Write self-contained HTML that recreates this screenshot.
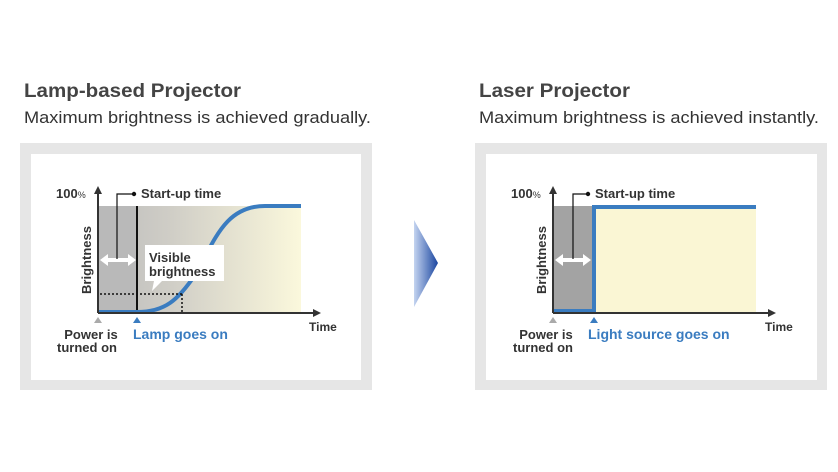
<!DOCTYPE html>
<html><head><meta charset="utf-8"><style>
html,body{margin:0;padding:0;background:#fff;}
svg{display:block;font-family:"Liberation Sans",Arial,sans-serif;}
</style></head><body>
<svg width="838" height="472" viewBox="0 0 838 472" xmlns="http://www.w3.org/2000/svg">
<defs>
<linearGradient id="lg" x1="0" x2="1" y1="0" y2="0">
<stop offset="0" stop-color="#bdbdbd"/><stop offset="0.35" stop-color="#cfcdc6"/><stop offset="1" stop-color="#fbf8dc"/>
</linearGradient>
<linearGradient id="ar" x1="0" x2="1" y1="0" y2="0">
<stop offset="0" stop-color="#c4d4f0"/><stop offset="1" stop-color="#1a45a0"/>
</linearGradient>
</defs>
<!-- titles -->
<text x="24" y="97" font-size="19" font-weight="bold" fill="#444" textLength="217" lengthAdjust="spacingAndGlyphs">Lamp-based Projector</text>
<text x="24" y="123" font-size="16.5" fill="#333" textLength="347" lengthAdjust="spacingAndGlyphs">Maximum brightness is achieved gradually.</text>
<text x="479" y="97" font-size="19" font-weight="bold" fill="#444" textLength="151" lengthAdjust="spacingAndGlyphs">Laser Projector</text>
<text x="479" y="123" font-size="16.5" fill="#333" textLength="340" lengthAdjust="spacingAndGlyphs">Maximum brightness is achieved instantly.</text>
<!-- boxes -->
<rect x="20" y="143" width="352" height="247" fill="#e6e6e6"/>
<rect x="31" y="154" width="330" height="226" fill="#fff"/>
<rect x="475" y="143" width="352" height="247" fill="#e6e6e6"/>
<rect x="486" y="154" width="331" height="226" fill="#fff"/>
<!-- middle arrow -->
<polygon points="414,220 438,263 414,307" fill="url(#ar)"/>

<!-- LEFT CHART -->
<rect x="98" y="206" width="203" height="106" fill="url(#lg)"/>
<rect x="98" y="206" width="39" height="106" fill="#b9b9b9"/>
<line x1="137" y1="206" x2="137" y2="312" stroke="#111" stroke-width="2"/>
<path d="M98,312 L137,312 C165,312 178,300 195,275 C215,240 225,206 265,206 L301,206" fill="none" stroke="#3a7cc0" stroke-width="4"/>
<line x1="100" y1="294" x2="182" y2="294" stroke="#111" stroke-width="1.5" stroke-dasharray="2,2"/>
<line x1="182" y1="294" x2="182" y2="312" stroke="#111" stroke-width="1.5" stroke-dasharray="2,2"/>
<!-- axes -->
<line x1="98" y1="313" x2="98" y2="192" stroke="#333" stroke-width="2"/>
<polygon points="98,186 94,194 102,194" fill="#333"/>
<line x1="98" y1="313" x2="314" y2="313" stroke="#333" stroke-width="2"/>
<polygon points="321,313 313,309 313,317" fill="#333"/>
<!-- callout -->
<polygon points="145,245 224,245 224,281 162,281 152,291 154,281 145,281" fill="#fff"/>
<text x="149" y="262" font-size="13" font-weight="bold" fill="#333">Visible</text>
<text x="149" y="276" font-size="13" font-weight="bold" fill="#333">brightness</text>
<!-- double arrow -->
<g fill="#fff"><rect x="106" y="258" width="22" height="4"/><polygon points="100,260 108,254 108,266"/><polygon points="136,260 128,254 128,266"/></g>
<polyline points="117,259 117,194 134,194" fill="none" stroke="#111" stroke-width="1.2"/>
<circle cx="134" cy="194" r="2.2" fill="#111"/>
<text x="141" y="198" font-size="13" font-weight="bold" fill="#333">Start-up time</text>
<text x="56" y="198" font-size="13" font-weight="bold" fill="#333">100<tspan font-size="9" font-weight="normal">%</tspan></text>
<text transform="translate(91,260) rotate(-90)" text-anchor="middle" font-size="13" font-weight="bold" fill="#333">Brightness</text>
<text x="309" y="331" font-size="12" font-weight="bold" fill="#333">Time</text>
<polygon points="98,317 94,323 102,323" fill="#aaa"/>
<polygon points="137,317 133,323 141,323" fill="#3a7cc0"/>
<text x="91" y="339" text-anchor="middle" font-size="13" font-weight="bold" fill="#333">Power is</text>
<text x="87" y="352" text-anchor="middle" font-size="13" font-weight="bold" fill="#333">turned on</text>
<text x="133" y="339" font-size="14" font-weight="bold" fill="#3a7cc0">Lamp goes on</text>

<!-- RIGHT CHART -->
<rect x="553" y="206" width="40" height="106" fill="#a3a3a3"/>
<rect x="595" y="208" width="161" height="104" fill="#faf6d4"/>
<polyline points="553,311 594,311 594,207 756,207" fill="none" stroke="#3a7cc0" stroke-width="4"/>
<line x1="553" y1="313" x2="553" y2="192" stroke="#333" stroke-width="2"/>
<polygon points="553,186 549,194 557,194" fill="#333"/>
<line x1="553" y1="313" x2="769" y2="313" stroke="#333" stroke-width="2"/>
<polygon points="776,313 768,309 768,317" fill="#333"/>
<g fill="#fff"><rect x="561" y="258" width="24" height="4"/><polygon points="555,260 563,254 563,266"/><polygon points="591,260 583,254 583,266"/></g>
<polyline points="573,259 573,194 588,194" fill="none" stroke="#111" stroke-width="1.2"/>
<circle cx="588" cy="194" r="2.2" fill="#111"/>
<text x="595" y="198" font-size="13" font-weight="bold" fill="#333">Start-up time</text>
<text x="511" y="198" font-size="13" font-weight="bold" fill="#333">100<tspan font-size="9" font-weight="normal">%</tspan></text>
<text transform="translate(546,260) rotate(-90)" text-anchor="middle" font-size="13" font-weight="bold" fill="#333">Brightness</text>
<text x="765" y="331" font-size="12" font-weight="bold" fill="#333">Time</text>
<polygon points="553,317 549,323 557,323" fill="#aaa"/>
<polygon points="594,317 590,323 598,323" fill="#3a7cc0"/>
<text x="546" y="339" text-anchor="middle" font-size="13" font-weight="bold" fill="#333">Power is</text>
<text x="543" y="352" text-anchor="middle" font-size="13" font-weight="bold" fill="#333">turned on</text>
<text x="588" y="339" font-size="14" font-weight="bold" fill="#3a7cc0">Light source goes on</text>
</svg>
</body></html>
